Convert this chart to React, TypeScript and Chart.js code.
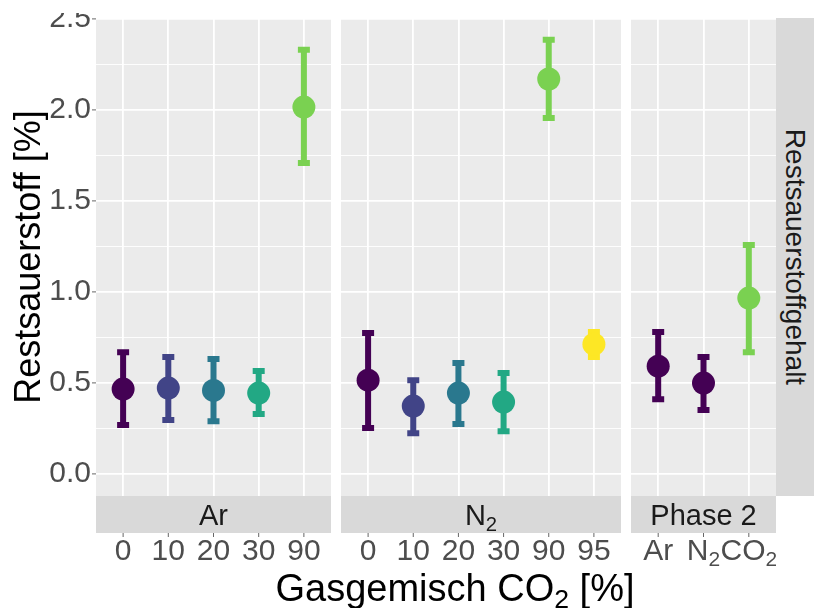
import React, { useEffect, useRef } from "react";
import { Chart, registerables } from "chart.js";

Chart.register(...registerables);

const FONT = '"Liberation Sans", Arial, Helvetica, sans-serif';

// ---- data ----
const arCategories = ["0", "10", "20", "30", "90"];
const arMean = [0.467, 0.473, 0.46, 0.445, 2.016];
const arLower = [0.27, 0.297, 0.291, 0.33, 1.709];
const arUpper = [0.67, 0.643, 0.632, 0.566, 2.33];
const arColors = ["#440154", "#414487", "#2A788E", "#22A884", "#7AD151"];

const n2Categories = ["0", "10", "20", "30", "90", "95"];
const n2Mean = [0.516, 0.374, 0.445, 0.396, 2.17, 0.714];
const n2Lower = [0.253, 0.225, 0.275, 0.236, 1.956, 0.643];
const n2Upper = [0.775, 0.516, 0.61, 0.555, 2.385, 0.78];
const n2Colors = ["#440154", "#414487", "#2A788E", "#22A884", "#7AD151", "#FDE725"];

const phaseCategories = ["Ar", "N₂", "CO₂"];
const phaseMean = [0.593, 0.5, 0.967];
const phaseLower = [0.412, 0.352, 0.67];
const phaseUpper = [0.78, 0.643, 1.258];
const phaseColors = ["#440154", "#440154", "#7AD151"];

const yTickValues = [0, 0.25, 0.5, 0.75, 1, 1.25, 1.5, 1.75, 2, 2.25, 2.5];
const yMin = -0.12;
const yMax = 2.505;

const stripLabels = ["Ar", "N₂", "Phase 2"];
const yTitle = "Restsauerstoff [%]";
const rightStrip = "Restsauerstoffgehalt";

// ---- helpers ----
const SUB: Record<string, string> = {
  "₀": "0", "₁": "1", "₂": "2", "₃": "3", "₄": "4",
  "₅": "5", "₆": "6", "₇": "7", "₈": "8", "₉": "9",
};

function drawRich(ctx: CanvasRenderingContext2D, text: string, cx: number, baseline: number, size: number, color: string) {
  const segs: { t: string; sub: boolean; w: number }[] = [];
  for (const ch of text) {
    const sub = SUB[ch] !== undefined;
    const c = sub ? SUB[ch] : ch;
    const last = segs[segs.length - 1];
    if (last && last.sub === sub) last.t += c;
    else segs.push({ t: c, sub, w: 0 });
  }
  let total = 0;
  segs.forEach((s) => {
    ctx.font = `${s.sub ? size * 0.7 : size}px ${FONT}`;
    s.w = ctx.measureText(s.t).width;
    total += s.w;
  });
  let x = cx - total / 2;
  ctx.fillStyle = color;
  ctx.textAlign = "left";
  ctx.textBaseline = "alphabetic";
  segs.forEach((s) => {
    ctx.font = `${s.sub ? size * 0.7 : size}px ${FONT}`;
    ctx.fillText(s.t, x, baseline + (s.sub ? size * 0.2 : 0));
    x += s.w;
  });
}

const isMajor = (v: number) => Math.abs(v * 2 - Math.round(v * 2)) < 1e-6;

const CANVAS_TOP = 13;
const CANVAS_H = 562;
const PAD_TOP = 5;
const X_AXIS_H = 79;
const TICK_SIZE = 30;
const STRIP_SIZE = 29;

type PanelProps = {
  left: number;
  width: number;
  categories: string[];
  mean: number[];
  lower: number[];
  upper: number[];
  colors: string[];
  strip: string;
  showY: boolean;
};

function Panel(props: PanelProps) {
  const ref = useRef<HTMLCanvasElement>(null);
  useEffect(() => {
    const { categories, mean, lower, upper, colors, strip, showY } = props;
    const canvas = ref.current!;
    const panelPlugin = {
      id: "panelDeco",
      beforeDraw(chart: any) {
        const { ctx, chartArea: a } = chart;
        ctx.save();
        ctx.fillStyle = "#EBEBEB";
        ctx.fillRect(a.left, a.top, a.right - a.left, a.bottom - a.top);
        ctx.restore();
      },
      beforeDatasetsDraw(chart: any) {
        const { ctx } = chart;
        const x = chart.scales.x;
        const y = chart.scales.y;
        ctx.save();
        ctx.lineWidth = 6;
        ctx.lineCap = "butt";
        categories.forEach((_, i) => {
          const px = x.getPixelForValue(i);
          const lo = y.getPixelForValue(lower[i]);
          const hi = y.getPixelForValue(upper[i]);
          ctx.strokeStyle = colors[i];
          ctx.beginPath();
          ctx.moveTo(px, lo);
          ctx.lineTo(px, hi);
          ctx.moveTo(px - 6, lo);
          ctx.lineTo(px + 6, lo);
          ctx.moveTo(px - 6, hi);
          ctx.lineTo(px + 6, hi);
          ctx.stroke();
        });
        ctx.restore();
      },
      afterDraw(chart: any) {
        const { ctx, chartArea: a } = chart;
        const x = chart.scales.x;
        ctx.save();
        ctx.fillStyle = "#D9D9D9";
        ctx.fillRect(a.left, a.bottom, a.right - a.left, 37);
        drawRich(ctx, strip, (a.left + a.right) / 2, a.bottom + 29, STRIP_SIZE, "#1A1A1A");
        ctx.strokeStyle = "#666666";
        ctx.lineWidth = 1;
        categories.forEach((c, i) => {
          const px = x.getPixelForValue(i);
          ctx.beginPath();
          ctx.moveTo(px, a.bottom + 37);
          ctx.lineTo(px, a.bottom + 41);
          ctx.stroke();
          drawRich(ctx, c, px, a.bottom + 64, TICK_SIZE, "#4D4D4D");
        });
        ctx.restore();
      },
    };

    const chart = new Chart(canvas, {
      type: "scatter",
      data: {
        datasets: [
          {
            data: mean.map((m, i) => ({ x: i, y: m })),
            pointRadius: 11.5,
            pointBackgroundColor: colors,
            pointBorderWidth: 0,
            pointHoverRadius: 11.5,
            showLine: false,
            clip: false,
          } as any,
        ],
      },
      options: {
        animation: false,
        responsive: false,
        devicePixelRatio: 1,
        events: [],
        layout: { autoPadding: false, padding: { top: PAD_TOP, left: 0, right: 0, bottom: 0 } },
        plugins: { legend: { display: false }, tooltip: { enabled: false } },
        scales: {
          x: {
            type: "linear",
            min: -0.6,
            max: categories.length - 0.4,
            border: { display: false },
            grid: { color: "#FFFFFF", lineWidth: 1.8, drawTicks: false },
            ticks: { display: false },
            afterBuildTicks: (s: any) => {
              s.ticks = categories.map((_, i) => ({ value: i }));
            },
            afterFit: (s: any) => {
              s.height = X_AXIS_H;
              s.paddingLeft = 0;
              s.paddingRight = 0;
            },
          },
          y: {
            type: "linear",
            min: yMin,
            max: yMax,
            border: { display: false },
            grid: {
              color: "#FFFFFF",
              lineWidth: (c: any) => (c.tick && isMajor(c.tick.value) ? 1.8 : 0.9),
              drawTicks: showY,
              tickLength: 4,
              tickWidth: 1,
              tickColor: (c: any) => (c.tick && isMajor(c.tick.value) ? "#666666" : "rgba(0,0,0,0)"),
            },
            ticks: {
              display: showY,
              autoSkip: false,
              padding: 1,
              color: "#4D4D4D",
              font: { family: FONT, size: TICK_SIZE },
              callback: (v: any) => (isMajor(Number(v)) ? Number(v).toFixed(1) : ""),
            },
            afterBuildTicks: (s: any) => {
              s.ticks = yTickValues.map((v) => ({ value: v }));
            },
            afterFit: (s: any) => {
              s.width = showY ? 96 : 0;
              s.paddingTop = 0;
              s.paddingBottom = 0;
            },
          },
        },
      } as any,
      plugins: [panelPlugin],
    });
    return () => chart.destroy();
  }, []);
  return (
    <canvas
      ref={ref}
      width={props.width}
      height={CANVAS_H}
      style={{ position: "absolute", left: props.left, top: CANVAS_TOP, width: props.width, height: CANVAS_H }}
    />
  );
}

export default function App() {
  return (
    <div style={{ position: "absolute", left: 0, top: 0, width: 824, height: 608, background: "#FFFFFF", overflow: "hidden", fontFamily: FONT }}>
      <Panel left={0} width={331} categories={arCategories} mean={arMean} lower={arLower} upper={arUpper} colors={arColors} strip={stripLabels[0]} showY={true} />
      <Panel left={341} width={280} categories={n2Categories} mean={n2Mean} lower={n2Lower} upper={n2Upper} colors={n2Colors} strip={stripLabels[1]} showY={false} />
      <Panel left={631} width={145} categories={phaseCategories} mean={phaseMean} lower={phaseLower} upper={phaseUpper} colors={phaseColors} strip={stripLabels[2]} showY={false} />

      {/* right strip */}
      <div style={{ position: "absolute", left: 776, top: 18, width: 38, height: 478, background: "#D9D9D9", overflow: "hidden" }}>
        <div style={{ position: "absolute", left: -220, top: 220, width: 478, height: 38, lineHeight: "38px", textAlign: "center", transform: "rotate(90deg)", fontSize: 28, color: "#1A1A1A", whiteSpace: "nowrap" }}>
          {rightStrip}
        </div>
      </div>

      {/* y title */}
      <div style={{ position: "absolute", left: -211, top: 237, width: 478, height: 40, lineHeight: "40px", textAlign: "center", transform: "rotate(-90deg)", fontSize: 36, color: "#000000", whiteSpace: "nowrap" }}>
        {yTitle}
      </div>

      {/* x title */}
      <div style={{ position: "absolute", left: 155, top: 569, width: 600, height: 38, lineHeight: "38px", textAlign: "center", fontSize: 38, color: "#000000", whiteSpace: "nowrap" }}>
        Gasgemisch CO<span style={{ fontSize: "0.7em", verticalAlign: "-0.25em" }}>2</span> [%]
      </div>
    </div>
  );
}
